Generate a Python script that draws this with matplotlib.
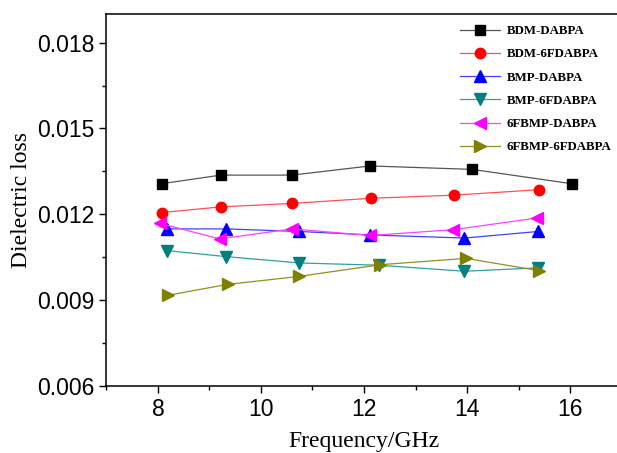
import numpy as np
import matplotlib
matplotlib.use('Agg')
import matplotlib.pyplot as plt
from matplotlib.ticker import MultipleLocator

# data
names = ['BDM-DABPA', 'BDM-6FDABPA', 'BMP-DABPA', 'BMP-6FDABPA', '6FBMP-DABPA', '6FBMP-6FDABPA']
freq_bdm_dabpa = [8.07, 9.22, 10.6, 12.12, 14.1, 16.03]
loss_bdm_dabpa = [0.01307, 0.01337, 0.01337, 0.01369, 0.01357, 0.01307]
freq_bdm_6f = [8.07, 9.22, 10.6, 12.13, 13.75, 15.4]
loss_bdm_6f = [0.01206, 0.01226, 0.01238, 0.01256, 0.01267, 0.01286]
freq_bmp_dabpa = [8.18, 9.33, 10.74, 12.12, 13.95, 15.38]
loss_bmp_dabpa = [0.01149, 0.01149, 0.0114, 0.01128, 0.01117, 0.0114]
freq_bmp_6f = [8.18, 9.33, 10.74, 12.3, 13.95, 15.38]
loss_bmp_6f = [0.01073, 0.01052, 0.0103, 0.01022, 0.01001, 0.01013]
freq_6fbmp_dabpa = [8.04, 9.2, 10.6, 12.12, 13.72, 15.36]
loss_6fbmp_dabpa = [0.01168, 0.01114, 0.01149, 0.01126, 0.01146, 0.01187]
freq_6fbmp_6f = [8.19, 9.35, 10.74, 12.32, 13.98, 15.4]
loss_6fbmp_6f = [0.00917, 0.00955, 0.00983, 0.01024, 0.01046, 0.01003]

series = [
    (freq_bdm_dabpa, loss_bdm_dabpa, 'black', '#555555', 's', 7),
    (freq_bdm_6f, loss_bdm_6f, 'red', '#ff5050', 'o', 7.5),
    (freq_bmp_dabpa, loss_bmp_dabpa, 'blue', '#4040ff', '^', 8),
    (freq_bmp_6f, loss_bmp_6f, '#008080', '#30a0a0', 'v', 8),
    (freq_6fbmp_dabpa, loss_6fbmp_dabpa, 'magenta', '#ff40ff', '<', 8),
    (freq_6fbmp_6f, loss_6fbmp_6f, '#808000', '#909020', '>', 8),
]

fig = plt.figure(figsize=(6.17, 4.53), dpi=100)
# right spine falls just outside the canvas, as in the cropped original
ax = fig.add_axes([0.1726, 0.1479, 0.8347, 0.8212])

for (x, y, mc, lc, mk, ms), name in zip(series, names):
    ax.plot(x, y, color=lc, lw=0.9, marker=mk, markersize=ms,
            markerfacecolor=mc, markeredgecolor=mc, label=name)

ax.set_xlim(7, 17)
ax.set_ylim(0.006, 0.019)
ax.xaxis.set_major_locator(MultipleLocator(2))
ax.xaxis.set_minor_locator(MultipleLocator(1))
ax.yaxis.set_minor_locator(MultipleLocator(0.0015))
ax.set_yticks([0.006, 0.009, 0.012, 0.015, 0.018])
ax.set_yticklabels(['0.006', '0.009', '0.012', '0.015', '0.018'])

ax.tick_params(which='major', direction='out', length=5, width=1.0,
               labelsize=16.5, top=False, right=False)
ax.tick_params(which='minor', direction='out', length=3, width=1.0,
               top=False, right=False)
for lab in ax.get_xticklabels() + ax.get_yticklabels():
    lab.set_family('Liberation Sans')
for sp in ax.spines.values():
    sp.set_linewidth(1.1)
ax.spines['right'].set_visible(False)

ax.set_xlabel('Frequency/GHz', family='Liberation Serif', fontsize=17, labelpad=7)
ax.set_ylabel('Dielectric loss', family='Liberation Serif', fontsize=17, labelpad=4)

ax.legend(loc='upper left', bbox_to_anchor=(460 / 617, 1 - 25 / 453),
          bbox_transform=fig.transFigure, frameon=False, borderpad=0,
          borderaxespad=0, handlelength=3.1, handletextpad=0.5, labelspacing=0.87,
          prop={'family': 'Liberation Serif', 'weight': 'bold', 'size': 9.3})

fig.savefig('out.png', dpi=100)
